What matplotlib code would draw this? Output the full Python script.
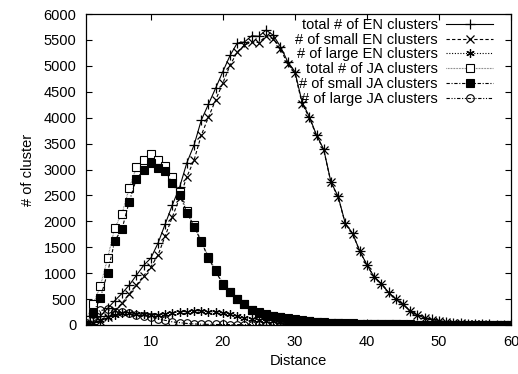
import matplotlib
matplotlib.use("Agg")
import matplotlib.pyplot as plt

plt.rcParams['font.family'] = ['Liberation Sans', 'DejaVu Sans']

# distance 1..60
distance = list(range(1, 61))

total_en = [20, 60, 170, 320, 470, 610, 770, 960, 1150, 1290, 1580, 1950, 2320, 2660, 3130,
            3470, 3950, 4260, 4570, 4890, 5200, 5440, 5460, 5580, 5570, 5690, 5590, 5370, 5080, 4890,
            4300, 4020, 3665, 3390, 2760, 2480, 1960, 1770, 1430, 1160, 930, 800, 630, 500, 405,
            270, 190, 140, 110, 85, 60, 45, 35, 25, 20, 15, 10, 8, 5, 3]
small_en = [10, 30, 70, 150, 280, 420, 600, 770, 950, 1120, 1350, 1720, 2090, 2450, 2860,
            3180, 3660, 4010, 4340, 4670, 5010, 5270, 5400, 5460, 5450, 5575, 5520, 5320, 5040, 4860,
            4270, 4000, 3650, 3380, 2750, 2470, 1950, 1765, 1425, 1155, 925, 795, 625, 495, 400,
            265, 185, 135, 105, 80, 55, 40, 30, 20, 15, 10, 8, 5, 3, 2]
large_en = [10, 40, 100, 150, 200, 230, 230, 220, 215, 190, 200, 220, 240, 255, 260,
            265, 270, 260, 245, 230, 205, 170, 140, 120, 100, 80, 70, 55, 45, 35,
            30, 25, 20, 15, 12, 10, 8, 7, 6, 5, 5, 4, 4, 3, 3,
            3, 2, 2, 2, 2, 2, 1, 1, 1, 1, 1, 1, 1, 1, 1]
total_ja = [100, 405, 750, 1290, 1880, 2150, 2640, 3040, 3180, 3300, 3180, 3070, 2860, 2560, 2200,
            1920, 1630, 1310, 1060, 800, 645, 510, 410, 290, 250, 210, 180, 160, 130, 110,
            95, 80, 65, 55, 45, 40, 35, 30, 27, 24, 21, 18, 16, 14, 12,
            10, 9, 8, 7, 6, 5, 5, 4, 4, 3, 3, 2, 2, 2, 2]
small_ja = [0, 225, 527, 1010, 1630, 1850, 2380, 2820, 2990, 3120, 3020, 2970, 2730, 2510, 2170,
            1900, 1610, 1290, 1040, 780, 630, 500, 400, 280, 240, 200, 170, 150, 120, 100,
            85, 70, 55, 45, 35, 30, 25, 22, 20, 18, 16, 14, 12, 10, 9,
            8, 7, 6, 5, 5, 4, 4, 3, 3, 2, 2, 2, 1, 1, 1]
large_ja = [30, 220, 280, 300, 260, 250, 240, 200, 180, 150, 120, 90, 60, 45, 30,
            20, 15, 12, 10, 10, 8, 8, 7, 7, 6, 6, 5, 5, 5, 4,
            4, 4, 3, 3, 3, 3, 2, 2, 2, 2, 2, 2, 2, 1, 1,
            1, 1, 1, 1, 1, 1, 1, 1, 1, 1, 1, 1, 1, 1, 1]

labels = ['total # of EN clusters', '# of small EN clusters', '# of large EN clusters',
          'total # of JA clusters', '# of small JA clusters', '# of large JA clusters']

fig = plt.figure(figsize=(5.18, 3.74), dpi=100)
ax = fig.add_axes([86/518, 1-325/374, (511-86)/518, (325-14)/374])

lw = 0.8
ax.plot(distance, total_en, color='k', lw=lw, ls='-', marker='+', ms=7, mew=0.9, label=labels[0])
ax.plot(distance, small_en, color='k', lw=lw, ls=(0, (3, 2)), marker='x', ms=5.5, mew=0.9, label=labels[1])
ax.plot(distance, large_en, color='k', lw=lw, ls=(0, (1, 1.5)), marker=(6, 2, 0), ms=6, mew=0.9, label=labels[2])
ax.plot(distance, total_ja, color='0.35', lw=lw, ls=(0, (0.6, 0.8)), marker='s', ms=5.5, mew=0.8,
        mfc='white', mec='k', label=labels[3])
ax.plot(distance, small_ja, color='k', lw=lw, ls=(0, (3, 1.5, 1, 1.5)), marker='s', ms=5.8, mew=0.8,
        mfc='k', mec='k', label=labels[4])
ax.plot(distance, large_ja, color='k', lw=lw, ls=(0, (3, 1.5, 1, 1.5, 1, 1.5)), marker='o', ms=5.5, mew=0.8,
        mfc='none', mec='k', label=labels[5])

ax.set_xlim(1, 60)
ax.set_ylim(0, 6000)
ax.set_xticks([10, 20, 30, 40, 50, 60])
ax.set_yticks(range(0, 6001, 500))
ax.tick_params(direction='in', top=True, right=True, length=4, width=0.8, labelsize=10.5, pad=7)
for s in ax.spines.values():
    s.set_linewidth(0.9)

ax.set_xlabel('Distance', fontsize=10.5, labelpad=4)
ax.set_ylabel('# of cluster', fontsize=10.5, labelpad=6)

leg = ax.legend(loc='upper right', bbox_to_anchor=((493-86)/425, 1-4/311), frameon=False,
                markerfirst=False, fontsize=10.5, handlelength=3.2, handletextpad=0.6,
                labelspacing=0.05, borderaxespad=0, borderpad=0)

fig.savefig('out.png', dpi=100)
